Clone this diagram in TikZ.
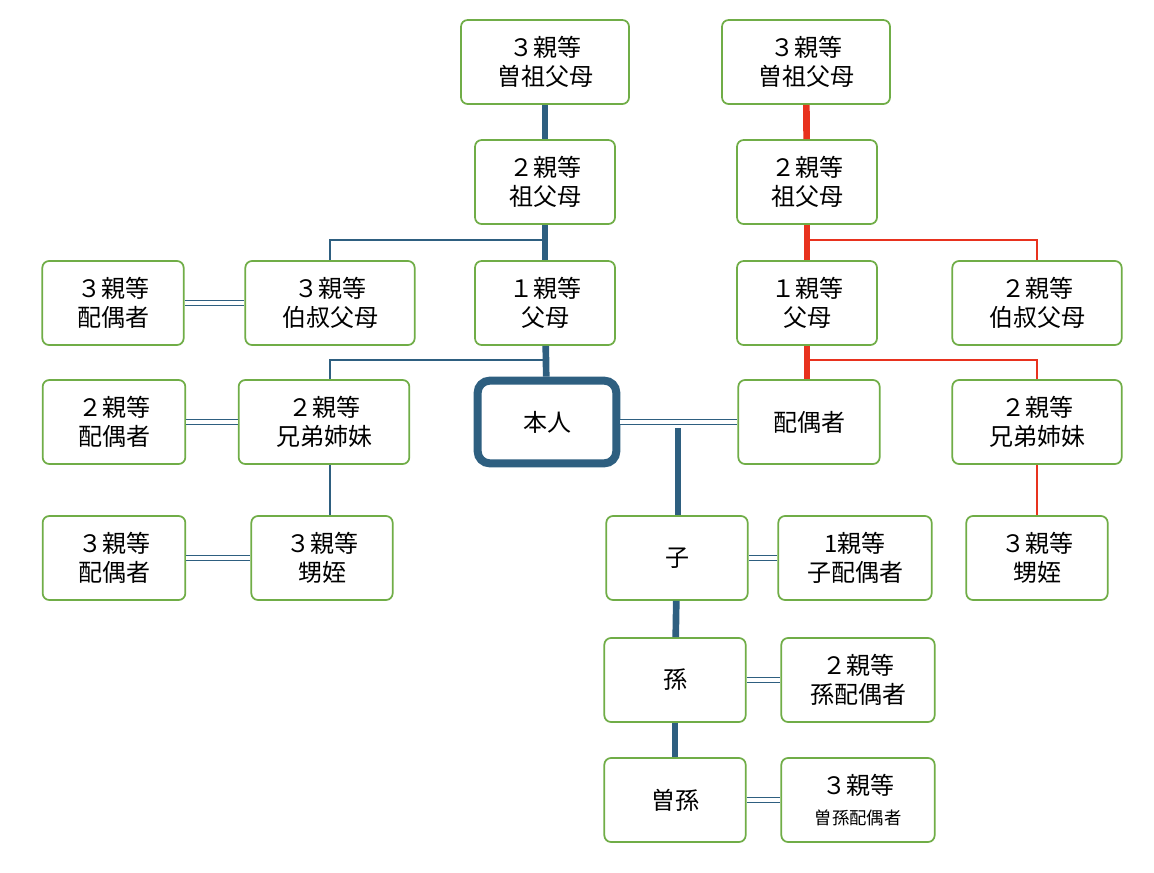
\documentclass[tikz,border=0pt]{standalone}
\usepackage{fontspec}
\setmainfont{Noto Sans CJK JP}
\usetikzlibrary{positioning}
\begin{document}
\begin{tikzpicture}[x=0.75pt,y=-0.75pt]
\definecolor{kinGreen}{HTML}{70AD47}
\definecolor{kinBlue}{HTML}{2E5F80}
\definecolor{kinRed}{HTML}{E8321E}
\tikzstyle{person}=[rectangle,rounded corners=5pt,draw=kinGreen,line width=1.3pt,fill=white,align=center,font=\fontsize{18}{22}\selectfont,minimum height=63pt,inner sep=1pt]
\tikzstyle{self}=[person,draw=kinBlue,line width=6pt,rounded corners=9pt,minimum height=62pt]
\tikzstyle{trunk}=[kinBlue,line width=5pt]
\tikzstyle{branch}=[kinBlue,line width=1.4pt]
\tikzstyle{rtrunk}=[kinRed,line width=5pt]
\tikzstyle{rbranch}=[kinRed,line width=1.4pt]
\tikzstyle{marry}=[kinBlue,line width=1.1pt,double=white,double distance=2.4pt]
\useasboundingbox (0,0) rectangle (1154,872);
% father's side
\node[person,minimum width=126pt] (ggpL) at (545,62) {３親等\\曽祖父母};
\node[person,minimum width=105pt] (gpL) at (545,182) {２親等\\祖父母};
\node[person,minimum width=105pt] (parL) at (545,303) {１親等\\父母};
\node[person,minimum width=127pt] (uncL) at (330,303) {３親等\\伯叔父母};
\node[person,minimum width=106pt] (spUnc) at (113,303) {３親等\\配偶者};
\node[person,minimum width=128pt] (sibL) at (324,422) {２親等\\兄弟姉妹};
\node[person,minimum width=107pt] (spSib) at (114,422) {２親等\\配偶者};
\node[person,minimum width=106pt] (nepL) at (322,558) {３親等\\甥姪};
\node[person,minimum width=107pt] (spNep) at (114,558) {３親等\\配偶者};
\node[self,minimum width=104pt] (self) at (547,422) {本人};
% spouse's side
\node[person,minimum width=126pt] (ggpR) at (806,62) {３親等\\曽祖父母};
\node[person,minimum width=105pt] (gpR) at (807,182) {２親等\\祖父母};
\node[person,minimum width=105pt] (parR) at (807,303) {１親等\\父母};
\node[person,minimum width=127pt] (uncR) at (1037,303) {２親等\\伯叔父母};
\node[person,minimum width=106pt] (spouse) at (809,422) {配偶者};
\node[person,minimum width=127pt] (sibR) at (1037,422) {２親等\\兄弟姉妹};
\node[person,minimum width=106pt] (nepR) at (1037,558) {３親等\\甥姪};
% descendants
\node[person,minimum width=106pt] (child) at (677,558) {子};
\node[person,minimum width=115pt] (spChild) at (855,558) {1親等\\子配偶者};
\node[person,minimum width=106pt] (gchild) at (675,680) {孫};
\node[person,minimum width=115pt] (spGchild) at (858,680) {２親等\\孫配偶者};
\node[person,minimum width=106pt] (ggchild) at (675,800) {曽孫};
\node[person,minimum width=115pt] (spGgchild) at (858,800) {３親等\\{\fontsize{13}{16}\selectfont 曽孫配偶者}};

\coordinate (jL1) at (547,240);
\coordinate (jL2) at (547,360);
\coordinate (jR1) at (807,240);
\coordinate (jR2) at (807,360);
\coordinate (jC) at (678,428);

\draw[trunk] (ggpL) -- (gpL);
\draw[trunk] (gpL) -- (parL);
\draw[trunk] (parL) -- (self);
\draw[branch] (jL1) -| (uncL);
\draw[branch] (jL2) -| (sibL.north -| 330,0);
\draw[branch] (sibL.south -| 330,0) -- (nepL.north -| 330,0);
\draw[marry] (spUnc) -- (uncL);
\draw[marry] (spSib) -- (sibL);
\draw[marry] (spNep) -- (nepL);

\draw[rtrunk] (ggpR) -- (gpR);
\draw[rtrunk] (gpR) -- (parR);
\draw[rtrunk] (parR) -- (spouse.north -| parR);
\draw[rbranch] (jR1) -| (uncR);
\draw[rbranch] (jR2) -| (sibR);
\draw[rbranch] (sibR) -- (nepR);

\draw[marry] (self) -- (spouse);
\draw[trunk] (jC) -- (child.north -| jC);
\draw[trunk] (child) -- (gchild);
\draw[trunk] (gchild) -- (ggchild);
\draw[marry] (child) -- (spChild);
\draw[marry] (gchild) -- (spGchild);
\draw[marry] (ggchild) -- (spGgchild);
\end{tikzpicture}
\end{document}
